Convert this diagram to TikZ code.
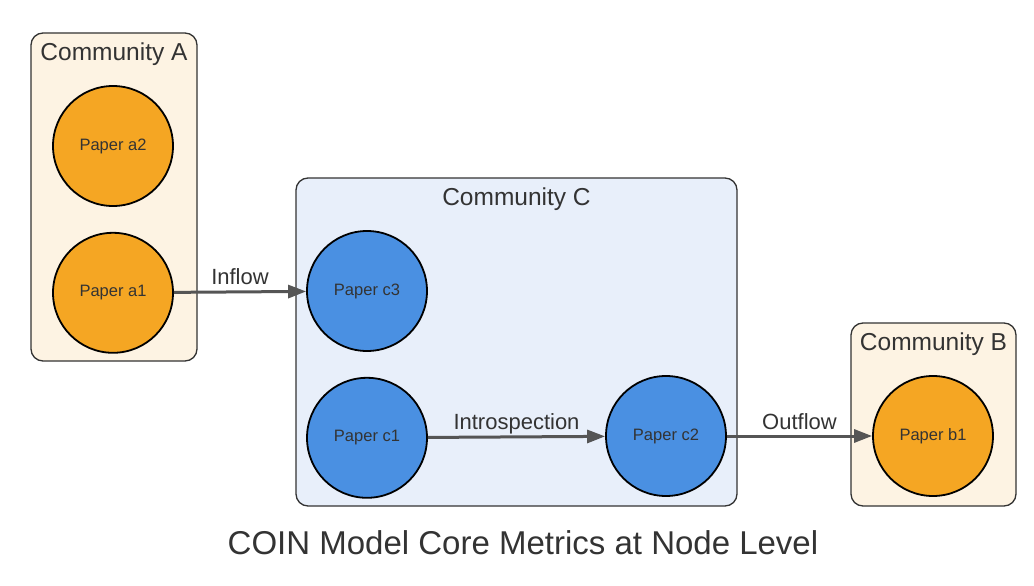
\documentclass[tikz,border=0pt]{standalone}
\usepackage{fontspec}
\setmainfont{Liberation Sans}
\usetikzlibrary{positioning,arrows.meta}
\definecolor{paperorange}{HTML}{F5A623}
\definecolor{paperblue}{HTML}{4A90E2}
\definecolor{warmbg}{HTML}{FDF3E3}
\definecolor{coolbg}{HTML}{E8EFFA}
\definecolor{inkgray}{HTML}{333333}
\definecolor{linkgray}{HTML}{555555}

\begin{document}
\begin{tikzpicture}[x=1pt,y=-1pt,
  community/.style = {shape=rectangle, rounded corners=12pt,
    draw=inkgray, line width=1.3pt, inner sep=0pt},
  commlabel/.style = {text=inkgray, font=\fontsize{24.5}{28}\selectfont, inner sep=0pt},
  paper/.style = {shape=circle, draw=black, line width=1.8pt,
    minimum size=120pt, inner sep=0pt, text=inkgray,
    font=\fontsize{16.5}{19}\selectfont},
  link/.style = {draw=linkgray, line width=3pt, -{Triangle[length=18pt,width=13pt]}},
  linklabel/.style = {text=inkgray, font=\fontsize{22}{25}\selectfont, inner sep=0pt,
    anchor=base, yshift=7pt}
  ]
  \useasboundingbox (0,0) rectangle (1034,586);
  % communities
  \node[community, fill=warmbg, minimum width=166pt, minimum height=328pt] (commA) at (114,197) {};
  \node[community, fill=coolbg, minimum width=441pt, minimum height=328pt] (commC) at (516.5,342) {};
  \node[community, fill=warmbg, minimum width=165pt, minimum height=183pt] (commB) at (933.5,414.5) {};
  \node[commlabel, below=10pt of commA.north] {Community A};
  \node[commlabel, below=10pt of commC.north] {Community C};
  \node[commlabel, below=10pt of commB.north] {Community B};
  % papers
  \node[paper, fill=paperorange] (a2) at (113,146) {Paper a2};
  \node[paper, fill=paperorange, below=25pt of a2] (a1) {Paper a1};
  \node[paper, fill=paperblue] (c3) at (367,291) {Paper c3};
  \node[paper, fill=paperblue, below=25pt of c3] (c1) {Paper c1};
  \node[paper, fill=paperblue] (c2) at (666,436) {Paper c2};
  \node[paper, fill=paperorange] (b1) at (933,436) {Paper b1};
  % flows
  \draw[link] (a1) -- node[linklabel] {Inflow} (c3);
  \draw[link] (c1) -- node[linklabel] {Introspection} (c2);
  \draw[link] (c2) -- node[linklabel] {Outflow} (b1);
  \node[text=inkgray, font=\fontsize{33}{38}\selectfont] (title) at (523,543) {COIN Model Core Metrics at Node Level};
\end{tikzpicture}
\end{document}
